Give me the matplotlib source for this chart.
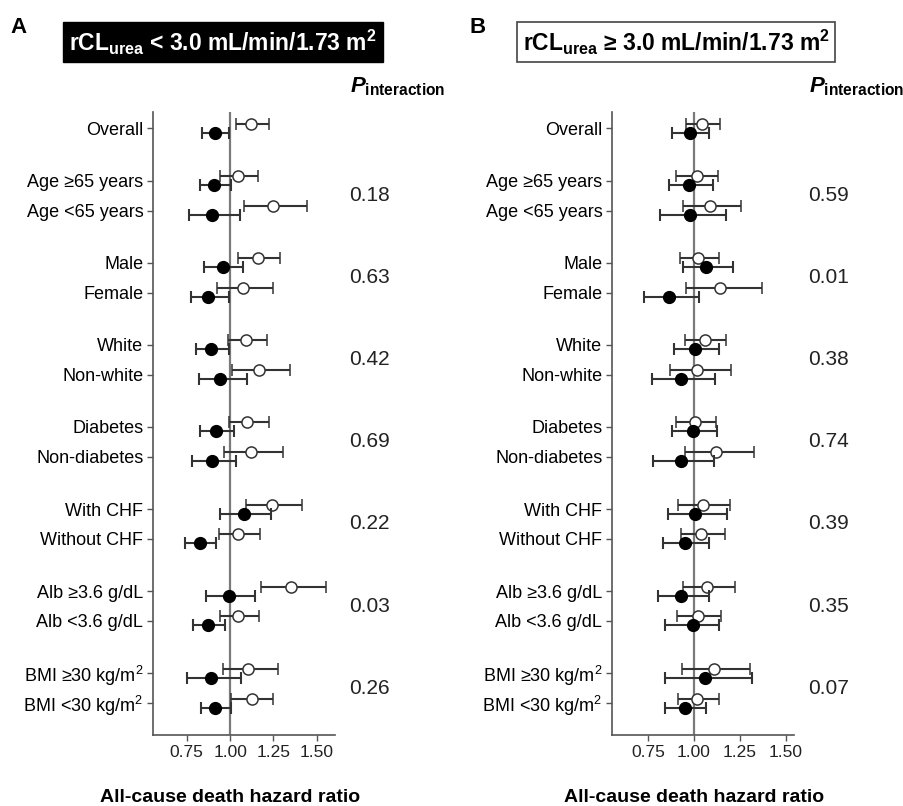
import numpy as np
import matplotlib
matplotlib.use('Agg')
import matplotlib.pyplot as plt
from matplotlib.transforms import blended_transform_factory

plt.rcParams['font.family'] = ['Liberation Sans', 'DejaVu Sans']
plt.rcParams['mathtext.fontset'] = 'custom'
plt.rcParams['mathtext.rm'] = 'Liberation Sans'
plt.rcParams['mathtext.bf'] = 'Liberation Sans:bold'
plt.rcParams['mathtext.it'] = 'Liberation Sans:bold:italic'

labels = ['Overall', 'Age \u226565 years', 'Age <65 years', 'Male', 'Female',
          'White', 'Non-white', 'Diabetes', 'Non-diabetes', 'With CHF',
          'Without CHF', 'Alb \u22653.6 g/dL', 'Alb <3.6 g/dL',
          'BMI \u226530 kg/m$^{2}$', 'BMI <30 kg/m$^{2}$']
groups = [1, 2, 2, 2, 2, 2, 2, 2]  # rows per subgroup block

# panel A (rCLurea < 3.0): open and filled hazard ratios with 95% CI
a_open = [1.123, 1.044, 1.246, 1.161, 1.072, 1.091, 1.167, 1.100, 1.123, 1.242, 1.047, 1.350, 1.047, 1.104, 1.127]
a_open_lo = [1.032, 0.939, 1.081, 1.044, 0.924, 0.985, 1.009, 0.991, 0.966, 1.089, 0.938, 1.176, 0.943, 0.956, 1.006]
a_open_hi = [1.222, 1.161, 1.445, 1.288, 1.246, 1.212, 1.345, 1.222, 1.307, 1.417, 1.174, 1.555, 1.165, 1.278, 1.250]
a_fill = [0.915, 0.909, 0.898, 0.956, 0.875, 0.892, 0.943, 0.920, 0.896, 1.080, 0.824, 0.991, 0.873, 0.890, 0.915]
a_fill_lo = [0.835, 0.824, 0.763, 0.848, 0.773, 0.805, 0.820, 0.826, 0.778, 0.943, 0.739, 0.858, 0.786, 0.750, 0.830]
a_fill_hi = [0.996, 1.006, 1.057, 1.076, 0.996, 0.991, 1.095, 1.025, 1.032, 1.233, 0.920, 1.146, 0.972, 1.061, 1.004]
a_p = ['0.18', '0.63', '0.42', '0.69', '0.22', '0.03', '0.26']

# panel B (rCLurea >= 3.0)
b_open = [1.045, 1.015, 1.087, 1.024, 1.145, 1.060, 1.020, 1.005, 1.123, 1.051, 1.038, 1.074, 1.024, 1.109, 1.018]
b_open_lo = [0.957, 0.902, 0.942, 0.924, 0.955, 0.951, 0.870, 0.902, 0.951, 0.915, 0.928, 0.942, 0.906, 0.938, 0.915]
b_open_hi = [1.141, 1.132, 1.259, 1.136, 1.373, 1.174, 1.205, 1.118, 1.328, 1.199, 1.172, 1.226, 1.147, 1.304, 1.136]
b_fill = [0.982, 0.974, 0.982, 1.069, 0.866, 1.009, 0.928, 0.996, 0.929, 1.009, 0.951, 0.933, 0.993, 1.060, 0.951]
b_fill_lo = [0.884, 0.864, 0.815, 0.942, 0.730, 0.893, 0.773, 0.882, 0.779, 0.860, 0.830, 0.803, 0.842, 0.846, 0.842]
b_fill_hi = [1.082, 1.105, 1.174, 1.214, 1.029, 1.138, 1.114, 1.127, 1.109, 1.181, 1.083, 1.083, 1.138, 1.319, 1.064]
b_p = ['0.59', '0.01', '0.38', '0.74', '0.39', '0.35', '0.07']

ticks = [0.75, 1.00, 1.25, 1.50]

# row positions: step 1 within a block, extra gap between blocks
ypos = []
y = 0.0
for g in groups:
    for k in range(g):
        ypos.append(y)
        y += 1
    y += 0.75
ypos = np.array(ypos)
y_first = [ypos[sum(groups[:i])] for i in range(1, len(groups))]

fig = plt.figure(figsize=(9.04, 8.06), dpi=100)

def panel(rect, xlim, op, oplo, ophi, fi, filo, fihi, pvals):
    ax = fig.add_axes(rect)
    off = 0.15
    op, oplo, ophi = np.array(op), np.array(oplo), np.array(ophi)
    fi, filo, fihi = np.array(fi), np.array(filo), np.array(fihi)
    ax.axvline(1.0, color='#7a7a7a', lw=1.6, zorder=1)
    ax.errorbar(op, ypos - off, xerr=[op - oplo, ophi - op], fmt='o', ms=8,
                mfc='white', mec='#333333', mew=1.1, ecolor='#333333',
                elinewidth=1.5, capsize=4.5, capthick=1.5, zorder=3)
    ax.errorbar(fi, ypos + off, xerr=[fi - filo, fihi - fi], fmt='o', ms=8.5,
                mfc='black', mec='black', ecolor='#333333',
                elinewidth=1.5, capsize=4.5, capthick=1.5, zorder=4)
    ax.set_xlim(*xlim)
    ax.set_ylim(20.32, -0.55)
    ax.set_yticks(ypos)
    ax.set_yticklabels(labels, fontsize=13)
    ax.set_xticks(ticks)
    ax.set_xticklabels(['%.2f' % t for t in ticks], fontsize=12.5, color='#222222')
    ax.tick_params(axis='both', length=4, width=1, color='#555555', pad=3)
    for s in ['top', 'right']:
        ax.spines[s].set_visible(False)
    for s in ['left', 'bottom']:
        ax.spines[s].set_color('#555555')
        ax.spines[s].set_linewidth(1.2)
    tr = blended_transform_factory(ax.transAxes, ax.transData)
    for yy, p in zip(y_first, pvals):
        ax.text(1.08, yy + 0.5, p, transform=tr, fontsize=15, va='center',
                ha='left', color='#222222')
    ax.text(1.08, -1.2, '$P_{\\mathbf{interaction}}$', transform=tr,
            fontsize=16, ha='left', va='baseline')
    tr2 = blended_transform_factory(ax.transData, ax.transAxes)
    ax.text(1.0, -0.1, 'All-cause death hazard ratio', transform=tr2,
            fontsize=14, fontweight='bold', ha='center', va='center')
    return ax

panel([153 / 904, 1 - 735 / 806, 182 / 904, 623 / 806], (0.555, 1.605),
      a_open, a_open_lo, a_open_hi, a_fill, a_fill_lo, a_fill_hi, a_p)
panel([612 / 904, 1 - 735 / 806, 182 / 904, 623 / 806], (0.555, 1.545),
      b_open, b_open_lo, b_open_hi, b_fill, b_fill_lo, b_fill_hi, b_p)

fig.text(10 / 904, 1 - 33 / 806, 'A', fontsize=16, fontweight='bold')
fig.text(470 / 904, 1 - 33 / 806, 'B', fontsize=16, fontweight='bold')

fig.text(223 / 904, 1 - 42 / 806,
         'rCL$_{\\mathbf{urea}}$ < 3.0 mL/min/1.73 m$^{\\mathbf{2}}$',
         fontsize=16.5, fontweight='bold', color='white', ha='center', va='center',
         bbox=dict(boxstyle='square,pad=0.25', fc='black', ec='black'))
fig.text(676 / 904, 1 - 42 / 806,
         'rCL$_{\\mathbf{urea}}$ \u2265 3.0 mL/min/1.73 m$^{\\mathbf{2}}$',
         fontsize=16.5, fontweight='bold', color='black', ha='center', va='center',
         bbox=dict(boxstyle='square,pad=0.25', fc='white', ec='#444444', lw=1.2))

fig.savefig('out.png', dpi=100)
